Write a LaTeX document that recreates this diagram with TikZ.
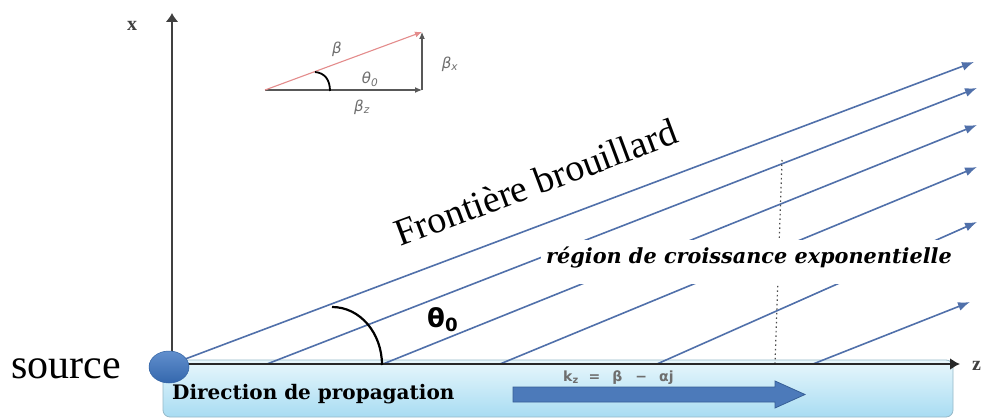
\documentclass[tikz,border=0pt]{standalone}
\usepackage{fontspec}
\setmainfont{Liberation Serif}
\newfontfamily\dvserif{DejaVu Serif}
\newfontfamily\dvsans{DejaVu Sans}
\usetikzlibrary{arrows.meta}
\definecolor{raycol}{RGB}{80,112,170}
\definecolor{bandtop}{RGB}{232,247,252}
\definecolor{bandbot}{RGB}{168,220,242}
\definecolor{bandedge}{RGB}{150,185,200}
\definecolor{srccol}{RGB}{58,115,192}
\definecolor{bigarrow}{RGB}{76,122,186}
\definecolor{bigarrowedge}{RGB}{55,95,150}
\definecolor{labgray}{RGB}{110,110,110}
\definecolor{betared}{RGB}{228,140,140}
\definecolor{axiscol}{RGB}{40,40,40}
\tikzset{
  ray/.style={draw=raycol, line width=1.6pt, -{Latex[length=12pt,width=9pt]}},
  axisline/.style={draw=axiscol, line width=2.2pt, -{Latex[length=10pt,width=12pt]}},
  smallvec/.style={draw=labgray!80!black, line width=1.1pt, -{Latex[length=7pt,width=6pt]}},
  trilabel/.style={text=labgray, font=\dvsans\itshape\fontsize{15}{18}\selectfont, inner sep=0pt},
  dotline/.style={draw=black!70, line width=1.2pt, dash pattern=on 1.5pt off 3pt},
}
\begin{document}
\begin{tikzpicture}[x=1pt,y=-1pt]
\useasboundingbox (0,0) rectangle (981,419);
\fill[white] (0,0) rectangle (981,419);

% coordinates
\coordinate (O) at (172,364);
\coordinate (Xtop) at (172,13);
\coordinate (Zend) at (960,364);
\coordinate (s1) at (267,364);
\coordinate (s2) at (383,364);
\coordinate (s3) at (500,364);
\coordinate (s4) at (657,364);
\coordinate (s5) at (813,364);
\coordinate (e0) at (974,62);
\coordinate (e1) at (977,88);
\coordinate (e2) at (977,125);
\coordinate (e3) at (977,167);
\coordinate (e4) at (977,222);
\coordinate (e5) at (970,302);
\coordinate (d1) at (782,160);
\coordinate (d2) at (775,364);

% light blue band
\shade[top color=bandtop, bottom color=bandbot, draw=bandedge, line width=0.8pt, rounded corners=7pt]
  (163,360) rectangle (953,417);

% rays
\draw[ray] (O) -- (e0);
\draw[ray] (s1) -- (e1);
\draw[ray] (s2) -- (e2);
\draw[ray] (s3) -- (e3);
\draw[ray] (s4) -- (e4);
\draw[ray] (s5) -- (e5);

% dotted vertical
\draw[dotline] (d1) -- (d2);

% region label with white background
\fill[white] (541,240) rectangle (958,284);
\node[font=\dvserif\bfseries\itshape\fontsize{20.8}{24}\selectfont, inner sep=0pt] (region) at (749,257)
  {région de croissance exponentielle};

% axes
\draw[axisline] (O) -- (Zend);
\draw[draw=black!75, line width=2.2pt, -{Latex[length=9pt,width=13pt]}] (O) -- (Xtop);
\node[font=\bfseries\fontsize{20}{22}\selectfont, text=black!75, inner sep=0pt] (xlab) at (132,26) {x};
\node[font=\bfseries\fontsize{20}{22}\selectfont, text=black!75, inner sep=0pt, anchor=west] (zlab) at (972,366) {z};

% main angle arc
\draw[black, line width=2.2pt] (332,307) .. controls (360,307) and (382,333) .. (382,365);
\node[font=\dvsans\bfseries\fontsize{26}{30}\selectfont, inner sep=0pt, anchor=base west] (theta) at (427,327)
  {θ\textsubscript{0}};

% source
\shade[top color=srccol!80!white, bottom color=srccol!90!black, draw=srccol!85!black, line width=0.5pt]
  (169,367) ellipse [x radius=20, y radius=16];
\node[font=\fontsize{42}{48}\selectfont, inner sep=0pt, anchor=base west] (source) at (11,378) {source};

% Frontière brouillard
\node[font=\fontsize{38}{44}\selectfont, inner sep=0pt, anchor=base west, rotate=20.5] (front) at (400,247)
  {Frontière brouillard};

% Direction de propagation
\node[font=\dvserif\bfseries\fontsize{20}{22}\selectfont, inner sep=0pt, anchor=base west] (dir) at (172,399)
  {Direction de propagation};

% big arrow
\filldraw[fill=bigarrow, draw=bigarrowedge, line width=0.8pt]
  (513,387) -- (775,387) -- (775,381) -- (805,394.5) -- (775,408) -- (775,402) -- (513,402) -- cycle;
\node[font=\dvsans\bfseries\fontsize{14}{16}\selectfont, text=labgray, inner sep=0pt, anchor=base west] (kz) at (563,381)
  {k\textsubscript{z}\hspace{10pt}=\hspace{12pt}β\hspace{13pt}−\hspace{12pt}αj};

% small triangle
\coordinate (T0) at (265,90);
\coordinate (T1) at (422,90);
\coordinate (T2) at (422,32);
\draw[smallvec] (T0) -- (T1);
\draw[smallvec] (T1) -- (T2);
\draw[draw=betared, line width=1.1pt, -{Latex[length=7pt,width=6pt]}] (T0) -- (T2);
\draw[black, line width=1.8pt] (315,72) .. controls (325,73) and (330,80) .. (330,91);
\node[trilabel] (beta) at (337,49) {β};
\node[trilabel] (th0) at (370,79) {θ\textsubscript{0}};
\node[trilabel] (betax) at (450,64) {β\textsubscript{x}};
\node[trilabel] (betaz) at (362,107) {β\textsubscript{z}};
\end{tikzpicture}
\end{document}
